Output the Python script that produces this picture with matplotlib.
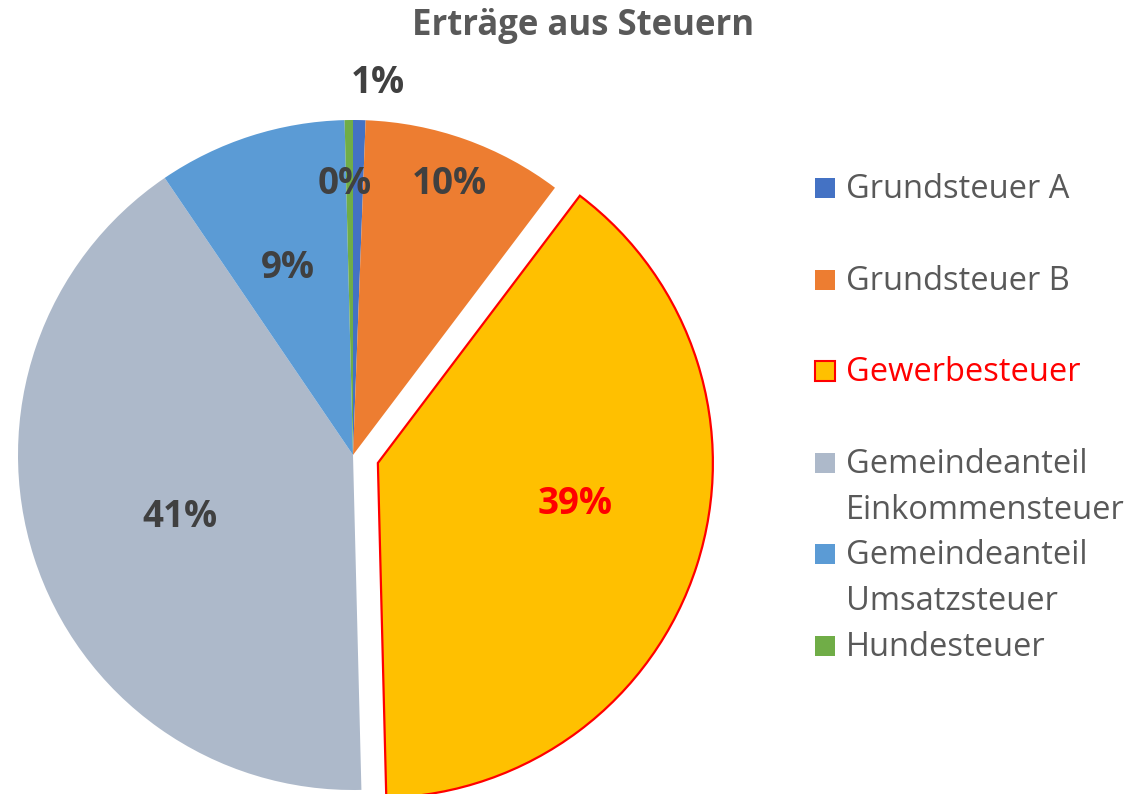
import numpy as np
import matplotlib
matplotlib.use("Agg")
import matplotlib.pyplot as plt
from matplotlib.patches import Rectangle

# ---------------- DATA ---------------- #
title = "Erträge aus Steuern"
categories = ["Grundsteuer A", "Grundsteuer B", "Gewerbesteuer",
              "Gemeindeanteil\nEinkommensteuer", "Gemeindeanteil\nUmsatzsteuer",
              "Hundesteuer"]
shares = [0.6, 9.7, 39.3, 40.9, 9.1, 0.4]

# ---------------- STYLE ---------------- #
colors = ["#4472C4", "#ED7D31", "#FFC000", "#ADB9CA", "#5B9BD5", "#70AD47"]
explode = [0, 0, 0.078, 0, 0, 0]
# label distance (in radii) and clockwise angle shift (deg) per slice
label_dist = [1.113, 0.86, 0.60, 0.55, 0.59, 0.81]
label_shift = [2.7, 0, -6, -2, -1.5, -1]
grey_txt = "#404040"
legend_txt = "#595959"
highlight = "#FF0000"

plt.rcParams['font.family'] = ['Open Sans', 'DejaVu Sans']

W, H = 1135, 794
fig = plt.figure(figsize=(W / 100, H / 100), dpi=100)

# pie centre at (353, 455) px, radius 335 px
R_px, cx, cy = 335, 353, 455
half = 1.1 * R_px
ax = fig.add_axes([(cx - half) / W, (H - cy - half) / H, 2 * half / W, 2 * half / H])

wedges, texts, autotexts = ax.pie(
    shares, colors=colors, explode=explode, startangle=90, counterclock=False,
    radius=1, autopct=lambda p: f"{p:.0f}%", pctdistance=0.7,
    wedgeprops=dict(linewidth=0),
    textprops=dict(fontsize=26.5, fontweight='bold', color=grey_txt))
ax.set_xlim(-1.1, 1.1)
ax.set_ylim(-1.1, 1.1)
ax.axis('off')

# highlight the exploded slice
wedges[2].set_edgecolor(highlight)
wedges[2].set_linewidth(1.6)

for i, (w, t) in enumerate(zip(wedges, autotexts)):
    mid = np.deg2rad((w.theta1 + w.theta2) / 2 - label_shift[i])
    x0, y0 = w.center
    t.set_position((x0 + label_dist[i] * np.cos(mid), y0 + label_dist[i] * np.sin(mid)))
    t.set_ha('center')
    t.set_va('center')
autotexts[2].set_color(highlight)

fig.text(583 / W, 1 - 35 / H, title, ha='center', va='baseline',
         fontsize=25, fontweight='bold', color=legend_txt)

# ---------------- LEGEND ---------------- #
row_y0, row_step, line_step = 188, 91.6, 46
for i, (lab, col) in enumerate(zip(categories, colors)):
    yc = row_y0 + i * row_step
    is_hl = i == 2
    fig.add_artist(Rectangle((815 / W, 1 - (yc + 10) / H), 20 / W, 20 / H,
                             facecolor=col, edgecolor=highlight if is_hl else col,
                             linewidth=1.5 if is_hl else 0,
                             transform=fig.transFigure))
    for j, line in enumerate(lab.split("\n")):
        fig.text(846 / W, 1 - (yc + 10 + j * line_step) / H, line,
                 ha='left', va='baseline', fontsize=23.5,
                 color=highlight if is_hl else legend_txt)

fig.savefig("out.png", dpi=100)
